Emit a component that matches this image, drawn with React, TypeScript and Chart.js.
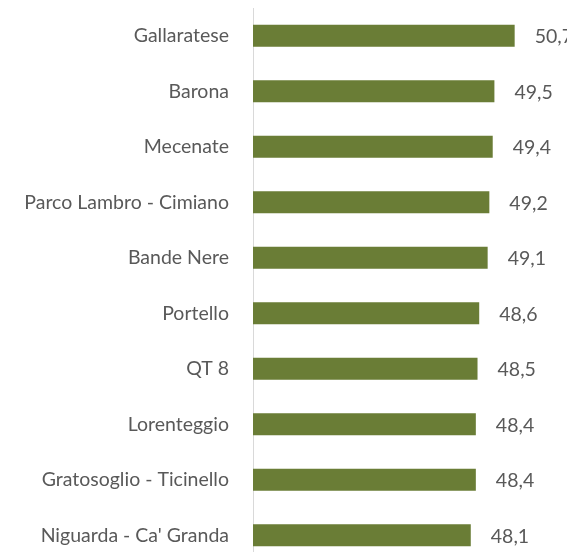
import React, { useEffect, useRef } from "react";
import { Chart, registerables } from "chart.js";

Chart.register(...registerables);

const categories = [
  "Gallaratese",
  "Barona",
  "Mecenate",
  "Parco Lambro - Cimiano",
  "Bande Nere",
  "Portello",
  "QT 8",
  "Lorenteggio",
  "Gratosoglio - Ticinello",
  "Niguarda - Ca' Granda",
];
const values = [50.7, 49.5, 49.4, 49.2, 49.1, 48.6, 48.5, 48.4, 48.4, 48.1];

const FONT = "Lato, 'Open Sans', sans-serif";
const FONT_SIZE = 19.5;

const valueLabels = {
  id: "valueLabels",
  afterDatasetsDraw(chart: any) {
    const ctx = chart.ctx;
    const meta = chart.getDatasetMeta(0);
    ctx.save();
    ctx.font = `${FONT_SIZE}px ${FONT}`;
    ctx.fillStyle = "#595959";
    ctx.textAlign = "left";
    ctx.textBaseline = "middle";
    meta.data.forEach((el: any, i: number) => {
      const v = values[i];
      const txt = v.toFixed(1).replace(".", ",");
      ctx.fillText(txt, el.x + 20, el.y + 1);
    });
    ctx.restore();
  },
};

export default function App() {
  const ref = useRef<HTMLCanvasElement>(null);
  useEffect(() => {
    document.body.style.overflow = "hidden";
    const chart = new Chart(ref.current!, {
      type: "bar",
      data: {
        labels: categories,
        datasets: [
          {
            data: values,
            backgroundColor: "#6A7D36",
            borderWidth: 0,
            categoryPercentage: 1,
            barPercentage: 0.397,
          },
        ],
      },
      options: {
        indexAxis: "y",
        responsive: false,
        animation: false,
        layout: { padding: { left: 0, right: 8, top: 0, bottom: 0 } },
        plugins: { legend: { display: false }, tooltip: { enabled: false } },
        scales: {
          x: { display: false, min: 35.2, max: 53.8 },
          y: {
            afterFit(scale: any) {
              scale.width = 245;
              scale.paddingTop = 0;
              scale.paddingBottom = 0;
            },
            grid: { display: false, drawTicks: false },
            border: { display: true, color: "#D9D9D9", width: 1 },
            ticks: {
              color: "#595959",
              padding: 24,
              font: { family: FONT, size: FONT_SIZE },
            },
          },
        },
      },
      plugins: [valueLabels],
    });
    return () => chart.destroy();
  }, []);
  return <canvas ref={ref} width={567} height={555} style={{ display: "block" }} />;
}
